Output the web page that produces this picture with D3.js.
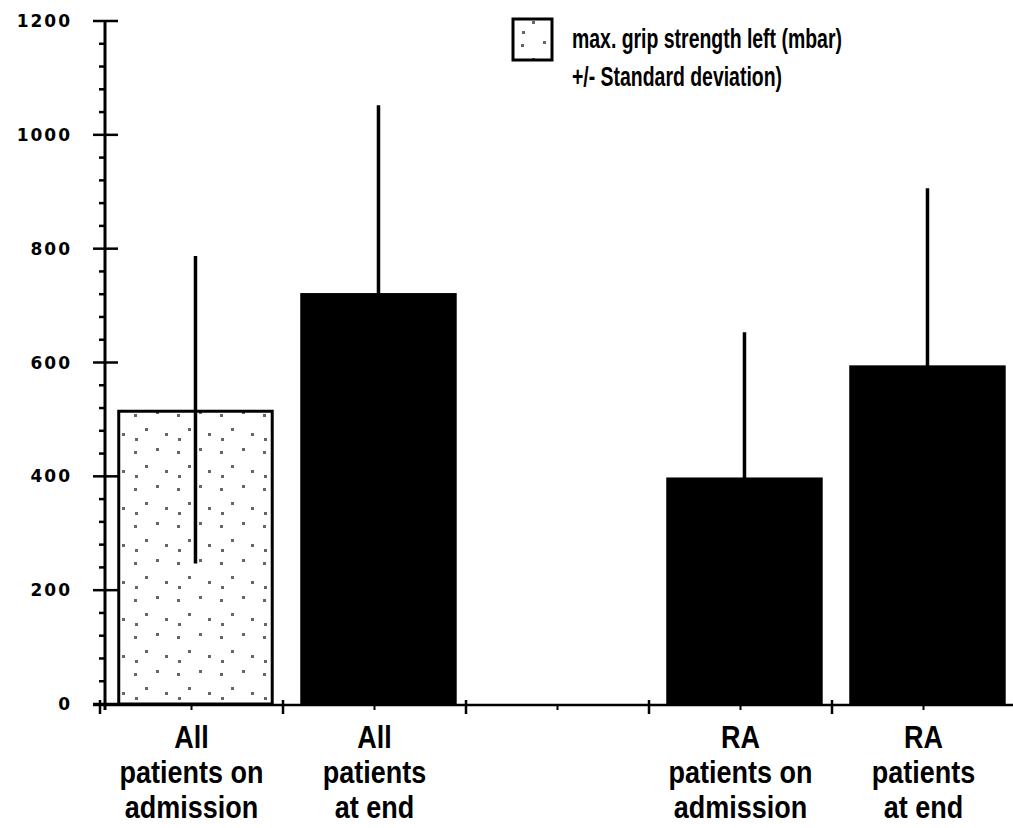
<!DOCTYPE html>
<html>
<head>
<meta charset="utf-8">
<script src="https://cdn.jsdelivr.net/npm/d3@7"></script>
<style>
  html, body { margin: 0; padding: 0; background: #fff; }
  svg { display: block; }
</style>
</head>
<body>
<div id="chart"></div>
<script>
// ---- data ----
const groups = ["All patients on admission", "All patients at end", "", "RA patients on admission", "RA patients at end"];
const labelLines = [
    ["All", "patients on", "admission"],
    ["All", "patients", "at end"],
    [],
    ["RA", "patients on", "admission"],
    ["RA", "patients", "at end"]
];
const means = [517, 722, null, 398, 595];
const sds = [270, 330, null, 255, 311];
const yTicks = [0, 200, 400, 600, 800, 1000, 1200];
const legendLines = ["max. grip strength left (mbar)", "+/- Standard deviation)"];

const width = 1013, height = 828;
const FONT = "Liberation Sans, Arial, sans-serif";

const svg = d3.select("#chart").append("svg")
    .attr("width", width)
    .attr("height", height);

// stipple pattern for the light bar
const defs = svg.append("defs");
const pat = defs.append("pattern")
    .attr("id", "stipple")
    .attr("patternUnits", "userSpaceOnUse")
    .attr("width", 43).attr("height", 37);
[[5, 7], [27, 4], [16, 21], [36, 26], [6, 31]].forEach(p => {
    pat.append("rect")
        .attr("x", p[0]).attr("y", p[1])
        .attr("width", 3).attr("height", 3)
        .attr("fill", "#666");
});

const x = d3.scaleBand()
    .domain(groups)
    .range([100, 1015])
    .paddingInner(0.145)
    .paddingOuter(0.0725)
    .align(0.65);

const y = d3.scaleLinear()
    .domain([0, 1200])
    .range([704, 21]);

// tick grid: band boundaries and their midpoints
const bounds = groups.map((g, i) => x.range()[0] + i * x.step());
const centers = bounds.map(b => b + x.step() / 2);

const barData = groups.map((g, i) => ({ g, i, mean: means[i], sd: sds[i] }))
    .filter(d => d.mean != null);

// bars
svg.append("g")
    .selectAll("rect")
    .data(barData)
    .enter()
    .append("rect")
    .attr("x", d => x(d.g) + (d.i === 0 ? 1.5 : 0))
    .attr("y", d => y(d.mean) + (d.i === 0 ? 1.5 : 0))
    .attr("width", d => x.bandwidth() - (d.i === 0 ? 3 : 0))
    .attr("height", d => y(0) - y(d.mean) - (d.i === 0 ? 1.5 : 0))
    .attr("fill", d => d.i === 0 ? "url(#stipple)" : "#000")
    .attr("stroke", d => d.i === 0 ? "#000" : "none")
    .attr("stroke-width", 3);

// standard deviation lines
svg.append("g")
    .selectAll("line")
    .data(barData)
    .enter()
    .append("line")
    .attr("x1", d => x(d.g) + x.bandwidth() / 2)
    .attr("x2", d => x(d.g) + x.bandwidth() / 2)
    .attr("y1", d => y(d.mean - d.sd))
    .attr("y2", d => y(d.mean + d.sd))
    .attr("stroke", "#000")
    .attr("stroke-width", 3.5);

// y axis
const yAxis = svg.append("g")
    .attr("transform", "translate(105,0)");

yAxis.append("line")
    .attr("x1", 0).attr("x2", 0)
    .attr("y1", y(1200)).attr("y2", y(0) + 6)
    .attr("stroke", "#000").attr("stroke-width", 3);

const minorTicks = d3.range(0, 1201, 40).filter(v => v % 200 !== 0);
yAxis.selectAll(".minor")
    .data(minorTicks)
    .enter()
    .append("line")
    .attr("x1", -6).attr("x2", 0)
    .attr("y1", d => y(d)).attr("y2", d => y(d))
    .attr("stroke", "#000").attr("stroke-width", 2.5);

yAxis.selectAll(".major")
    .data(yTicks)
    .enter()
    .append("line")
    .attr("x1", -12).attr("x2", 13)
    .attr("y1", d => y(d)).attr("y2", d => y(d))
    .attr("stroke", "#000").attr("stroke-width", 2.5);

yAxis.selectAll("text")
    .data(yTicks)
    .enter()
    .append("text")
    .attr("x", -33)
    .attr("y", d => y(d))
    .attr("dy", "0.36em")
    .attr("text-anchor", "end")
    .attr("font-family", "DejaVu Sans, sans-serif")
    .attr("font-weight", "bold")
    .attr("font-size", "17px")
    .attr("letter-spacing", "2px")
    .text(d => d);

// x axis
const xAxis = svg.append("g");
xAxis.append("line")
    .attr("x1", 93).attr("x2", width)
    .attr("y1", y(0) + 1).attr("y2", y(0) + 1)
    .attr("stroke", "#000").attr("stroke-width", 2.5);

xAxis.selectAll(".xmajor")
    .data(bounds)
    .enter()
    .append("line")
    .attr("x1", d => d).attr("x2", d => d)
    .attr("y1", y(0) - 4).attr("y2", y(0) + 10)
    .attr("stroke", "#000").attr("stroke-width", 2.5);

xAxis.selectAll(".xminor")
    .data(centers)
    .enter()
    .append("line")
    .attr("x1", d => d).attr("x2", d => d)
    .attr("y1", y(0)).attr("y2", y(0) + 6)
    .attr("stroke", "#000").attr("stroke-width", 2);

// category labels (condensed bold, like the original typeface)
const labels = svg.append("g")
    .attr("font-family", FONT)
    .attr("font-weight", "bold")
    .attr("font-size", "31px")
    .attr("text-anchor", "middle");

groups.forEach((g, i) => {
    labelLines[i].forEach((line, k) => {
        labels.append("text")
            .attr("transform", `translate(${centers[i]},${748 + k * 35}) scale(0.87,1)`)
            .text(line);
    });
});

// legend
const legend = svg.append("g");
legend.append("rect")
    .attr("x", 513).attr("y", 19)
    .attr("width", 39).attr("height", 41)
    .attr("fill", "url(#stipple)")
    .attr("stroke", "#000").attr("stroke-width", 3);

legend.selectAll("text")
    .data(legendLines)
    .enter()
    .append("text")
    .attr("transform", (d, i) => `translate(572,${48 + i * 38}) scale(0.72,1)`)
    .attr("font-family", FONT)
    .attr("font-weight", "bold")
    .attr("font-size", "27px")
    .text(d => d);
</script>
</body>
</html>
